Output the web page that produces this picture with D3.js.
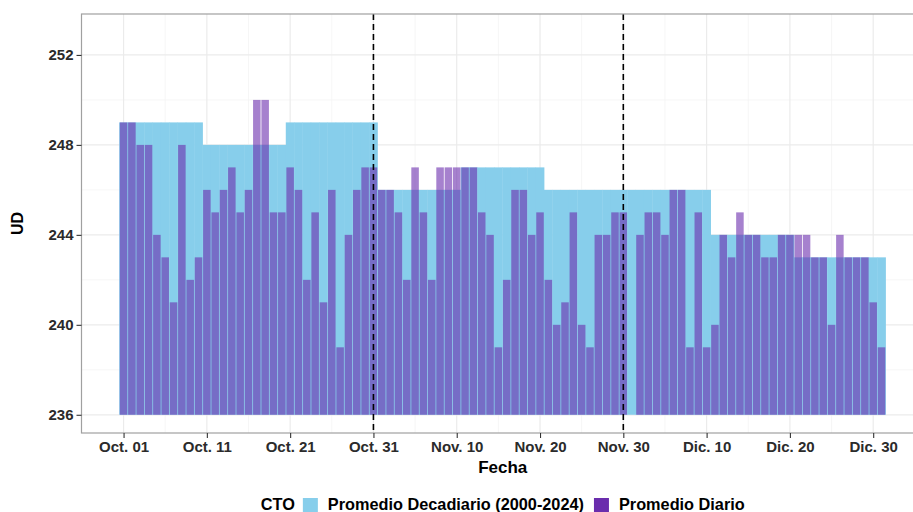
<!DOCTYPE html>
<html>
<head>
<meta charset="utf-8">
<script src="https://cdn.jsdelivr.net/npm/d3@7"></script>
<style>
  body { margin: 0; background: #fff; }
  svg { display: block; font-family: "Liberation Sans", Arial, Helvetica, sans-serif; }
</style>
</head>
<body>
<div id="chart"></div>
<script>
// daily values (Oct 1 .. Dec 31), null = no data
var octVals = [249, 249, 248, 248, 244, 243, 241, 248, 242, 243,
               246, 245, 246, 247, 245, 246, 250, 250, 245, 245,
               247, 246, 242, 245, 241, 246, 239, 244, 246, 247, 247];
var novVals = [246, 246, 245, 242, 247, 245, 242, 247, 247, 247,
               247, 247, 245, 244, 239, 242, 246, 246, 244, 245,
               242, 240, 241, 245, 240, 239, 244, 244, 245, 245];
var decVals = [null, 244, 245, 245, 244, 246, 246, 239, 245, 239,
               240, 244, 243, 245, 244, 244, 243, 243, 244, 244,
               244, 244, 243, 243, 240, 244, 243, 243, 243, 241, 239];

// decadal average 2000-2024, one per decade (Oct I, II, III, Nov I.., Dic I..)
var decadeVals = [249, 248, 249, 246, 247, 246, 246, 244, 243];

var yTicks = [236, 240, 244, 248, 252];
var xTickLabels = ["Oct. 01", "Oct. 11", "Oct. 21", "Oct. 31", "Nov. 10",
                   "Nov. 20", "Nov. 30", "Dic. 10", "Dic. 20", "Dic. 30"];
var markDays = ["2024-10-31", "2024-11-30"];
var seriesNames = ["Promedio Decadiario (2000-2024)", "Promedio Diario"];
var seriesColors = ["#87CEEB", "#6A2DAD"];
var baseValue = 236;

var svgWidth = 913;
var svgHeight = 512;
var panel = { left: 81.5, right: 924, top: 14, bottom: 433 };
var DAY = 864e5;

var start = new Date(Date.UTC(2024, 9, 1));
var dailyVals = octVals.concat(novVals, decVals);

var data = dailyVals.map(function(v, i) {
  var date = new Date(start.getTime() + i * DAY);
  var dec = Math.min(Math.floor((date.getUTCDate() - 1) / 10), 2);
  return { date: date, value: v, decadal: decadeVals[(date.getUTCMonth() - 9) * 3 + dec] };
});

var svg = d3.select("#chart")
  .append("svg")
  .attr("width", svgWidth)
  .attr("height", svgHeight);

var x = d3.scaleUtc()
  .domain([new Date(start.getTime() - 5.05 * DAY), new Date(start.getTime() + 96.1 * DAY)])
  .range([panel.left, panel.right]);

var y = d3.scaleLinear()
  .domain([235.19, 253.82])
  .range([panel.bottom, panel.top]);

var tickDates = xTickLabels.map(function(d, i) { return new Date(start.getTime() + i * 10 * DAY); });
var minorDates = d3.range(-1, 10).map(function(i) { return new Date(start.getTime() + (i * 10 + 5) * DAY); })
  .filter(function(d) { return x(d) > panel.left + 1; });

function barLeft(d) { return x(new Date(d.date.getTime() - DAY / 2)); }
function barRight(d) { return x(new Date(d.date.getTime() + DAY / 2)); }

// grid
var grid = svg.append("g");
grid.selectAll(".ymin").data([238, 242, 246, 250]).enter().append("line")
  .attr("x1", panel.left).attr("x2", panel.right)
  .attr("y1", d => y(d)).attr("y2", d => y(d))
  .attr("stroke", "#f4f4f4").attr("stroke-width", 0.8);
grid.selectAll(".xmin").data(minorDates).enter().append("line")
  .attr("x1", d => x(d)).attr("x2", d => x(d))
  .attr("y1", panel.top).attr("y2", panel.bottom)
  .attr("stroke", "#f4f4f4").attr("stroke-width", 0.8);
grid.selectAll(".ymaj").data(yTicks).enter().append("line")
  .attr("x1", panel.left).attr("x2", panel.right)
  .attr("y1", d => y(d)).attr("y2", d => y(d))
  .attr("stroke", "#ebebeb").attr("stroke-width", 1.2);
grid.selectAll(".xmaj").data(tickDates).enter().append("line")
  .attr("x1", d => x(d)).attr("x2", d => x(d))
  .attr("y1", panel.top).attr("y2", panel.bottom)
  .attr("stroke", "#ebebeb").attr("stroke-width", 1.2);

// decadal bars (slight overlap to hide seams)
svg.append("g").selectAll("rect")
  .data(data)
  .enter()
  .append("rect")
  .attr("x", d => barLeft(d) - 0.2)
  .attr("width", d => barRight(d) - barLeft(d) + 0.4)
  .attr("y", d => y(d.decadal))
  .attr("height", d => y(baseValue) - y(d.decadal))
  .attr("fill", seriesColors[0]);

// daily bars
svg.append("g").selectAll("rect")
  .data(data.filter(d => d.value !== null))
  .enter()
  .append("rect")
  .attr("x", d => barLeft(d) + 0.4)
  .attr("width", d => barRight(d) - barLeft(d) - 0.8)
  .attr("y", d => y(d.value))
  .attr("height", d => y(baseValue) - y(d.value))
  .attr("fill", seriesColors[1])
  .attr("fill-opacity", 0.6);

// dashed marker lines
svg.append("g").selectAll("line")
  .data(markDays)
  .enter()
  .append("line")
  .attr("x1", d => x(new Date(d + "T00:00:00Z")))
  .attr("x2", d => x(new Date(d + "T00:00:00Z")))
  .attr("y1", panel.top)
  .attr("y2", panel.bottom)
  .attr("stroke", "#000")
  .attr("stroke-width", 1.6)
  .attr("stroke-dasharray", "6,4");

// panel border
svg.append("rect")
  .attr("x", panel.left).attr("y", panel.top)
  .attr("width", panel.right - panel.left)
  .attr("height", panel.bottom - panel.top)
  .attr("fill", "none")
  .attr("stroke", "#a0a0a0")
  .attr("stroke-width", 1.2);

// axes
var bottomAxis = d3.axisBottom(x)
  .tickValues(tickDates)
  .tickFormat((d, i) => xTickLabels[i])
  .tickSize(5)
  .tickPadding(3);
var leftAxis = d3.axisLeft(y)
  .tickValues(yTicks)
  .tickSize(5)
  .tickPadding(3);

var xAxisG = svg.append("g")
  .attr("transform", `translate(0, ${panel.bottom})`)
  .call(bottomAxis);
var yAxisG = svg.append("g")
  .attr("transform", `translate(${panel.left}, 0)`)
  .call(leftAxis);

[xAxisG, yAxisG].forEach(function(g) {
  g.select(".domain").remove();
  g.selectAll(".tick line").attr("stroke", "#333").attr("stroke-width", 1.1);
  g.selectAll(".tick text")
    .attr("fill", "#2b2b2b")
    .attr("font-size", "15px")
    .attr("font-weight", "bold")
    .attr("font-family", "Liberation Sans, Arial, sans-serif");
});

// axis titles
var midX = (panel.left + panel.right) / 2;
svg.append("text")
  .attr("x", midX)
  .attr("y", 473)
  .attr("text-anchor", "middle")
  .attr("font-size", "17px")
  .attr("font-weight", "bold")
  .text("Fecha");

svg.append("text")
  .attr("transform", `translate(23, ${(panel.top + panel.bottom) / 2}) rotate(-90)`)
  .attr("text-anchor", "middle")
  .attr("font-size", "16px")
  .attr("font-weight", "bold")
  .text("UD");

// legend
var legend = svg.append("g");
var keySize = 15;
var cursor = 0;
var title = legend.append("text")
  .attr("x", cursor).attr("y", 510)
  .attr("font-size", "16.3px").attr("font-weight", "bold")
  .text("CTO");
cursor += title.node().getComputedTextLength() + 8;
seriesNames.forEach(function(name, i) {
  legend.append("rect")
    .attr("x", cursor).attr("y", 498)
    .attr("width", keySize).attr("height", keySize)
    .attr("fill", seriesColors[i]);
  cursor += keySize + 10;
  var t = legend.append("text")
    .attr("x", cursor).attr("y", 510)
    .attr("font-size", "16.3px").attr("font-weight", "bold")
    .text(name);
  cursor += t.node().getComputedTextLength() + 10;
});
cursor -= 10;
legend.attr("transform", `translate(${midX - cursor / 2}, 0)`);
</script>
</body>
</html>
